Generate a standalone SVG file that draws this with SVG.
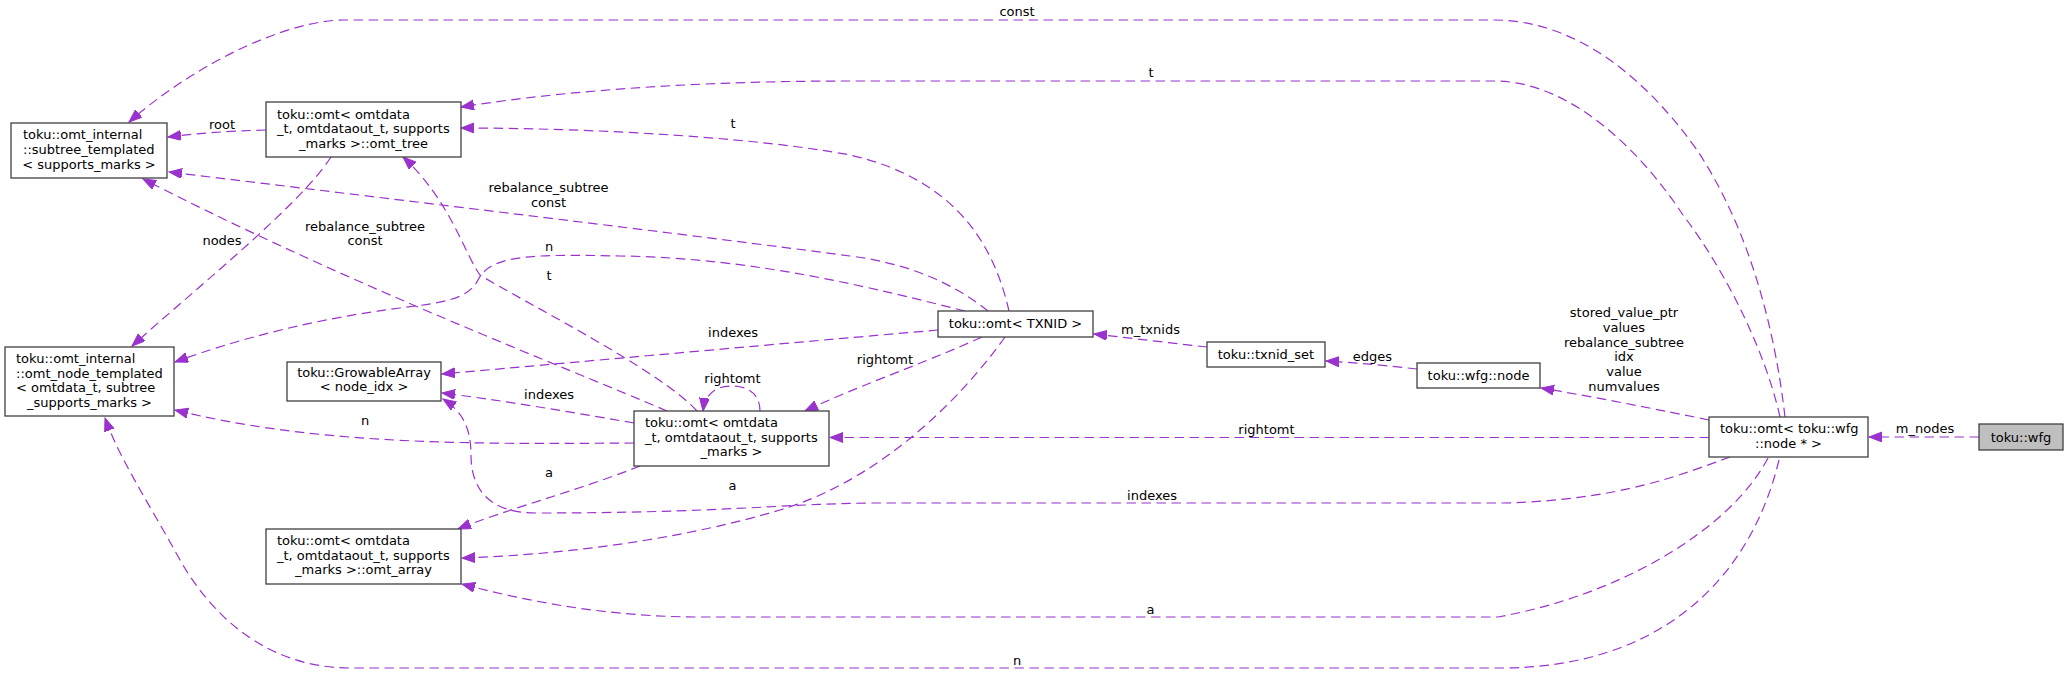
<svg xmlns="http://www.w3.org/2000/svg" width="2068" height="675" viewBox="0 0 2068 675">
<defs>
<marker id="ah" markerUnits="userSpaceOnUse" markerWidth="14" markerHeight="11" refX="13" refY="5" orient="auto"><path d="M0,0 L13,5 L0,10 z" fill="#9a32cd" stroke="#9a32cd" stroke-width="1"/></marker>
</defs>
<style>
.n rect {fill:#ffffff; stroke:#404040; stroke-width:1.3}
.n text, .lbl {font-family:"DejaVu Sans", "Liberation Sans", sans-serif; font-size:13px; fill:#000000}
.e path {fill:none; stroke:#9a32cd; stroke-width:1.2; stroke-dasharray:9.5,5.5; marker-end:url(#ah)}
.m {text-anchor:middle}
</style>
<rect width="2068" height="675" fill="#ffffff"/>
<g id="connectors" class="e">
  <path d="M1785,417 C1775,330 1750,230 1697,150 C1640,70 1570,20 1494,20 L344,20 C290,20 200,60 129,122"/>
  <path d="M1780,417 C1765,350 1725,270 1683,215 C1640,150 1570,81 1494,81 L850,81 C720,81 580,88 461,107"/>
  <path d="M266,130 C230,131 200,133 168,137"/>
  <path d="M1009,311 C995,250 960,180 850,155 C760,138 600,128 461,128"/>
  <path d="M988,311 C950,280 900,262 850,256 C700,236 400,200 169,172"/>
  <path d="M331,157 C300,205 200,285 132,346"/>
  <path d="M667,411 C560,365 350,285 143,179"/>
  <path d="M965,311 C880,290 760,258 620,256 C530,254 490,255 478,280 C468,300 440,303 400,308 C320,318 240,338 175,362"/>
  <path d="M697,411 C660,370 520,300 480,275 C465,255 450,200 403,157"/>
  <path d="M938,330 C800,342 600,360 442,374"/>
  <path d="M982,337 C920,365 860,385 805,411"/>
  <path d="M1207,347 C1170,343 1130,338 1094,334"/>
  <path d="M1417,369 C1390,366 1360,363 1326,361"/>
  <path d="M760,411 C760,394 748,386 732,386 C716,386 705,394 703,411"/>
  <path d="M634,423 C570,412 500,400 442,393"/>
  <path d="M634,443 C480,444 320,446 175,410"/>
  <path d="M1709,437.5 L830,437.5"/>
  <path d="M1979,437 L1869,437"/>
  <path d="M640,466 C580,490 510,508 458,529"/>
  <path d="M1005,337 C960,400 880,480 780,510 C680,540 560,555 462,558"/>
  <path d="M1730,457 C1680,475 1620,500 1504,503 L872,503 C780,504 720,513 536,513 C490,513 471,490 471,455 C471,425 460,410 443,399"/>
  <path d="M1768,458 C1730,530 1620,595 1498,617 L700,617 C620,617 540,605 462,584"/>
  <path d="M1779,460 C1750,580 1660,668 1500,668 L350,668 C280,668 220,630 180,560 C150,505 120,460 105,418"/>
  <path d="M1709,420 C1660,410 1600,398 1541,388"/>
  <text class="lbl m" x="1017" y="16">const</text>
  <text class="lbl m" x="1151" y="77">t</text>
  <text class="lbl m" x="222" y="128.5">root</text>
  <text class="lbl m" x="733" y="128">t</text>
  <text class="lbl m" x="548.5" y="192">rebalance_subtree</text>
  <text class="lbl m" x="548.5" y="207">const</text>
  <text class="lbl m" x="222" y="244.5">nodes</text>
  <text class="lbl m" x="365" y="230.5">rebalance_subtree</text>
  <text class="lbl m" x="365" y="245">const</text>
  <text class="lbl m" x="549" y="251">n</text>
  <text class="lbl m" x="549" y="279.5">t</text>
  <text class="lbl m" x="733" y="337">indexes</text>
  <text class="lbl m" x="885" y="364">rightomt</text>
  <text class="lbl m" x="1150.5" y="333.5">m_txnids</text>
  <text class="lbl m" x="1372.5" y="360.5">edges</text>
  <text class="lbl m" x="732.5" y="383">rightomt</text>
  <text class="lbl m" x="549" y="399">indexes</text>
  <text class="lbl m" x="365" y="424.5">n</text>
  <text class="lbl m" x="1266.5" y="433.5">rightomt</text>
  <text class="lbl m" x="1925" y="433">m_nodes</text>
  <text class="lbl m" x="549" y="476.5">a</text>
  <text class="lbl m" x="732.5" y="489.5">a</text>
  <text class="lbl m" x="1152" y="500">indexes</text>
  <text class="lbl m" x="1150.5" y="613.5">a</text>
  <text class="lbl m" x="1017" y="665">n</text>
  <text class="lbl m" x="1624" y="317"><tspan x="1624">stored_value_ptr</tspan><tspan x="1624" dy="14.8">values</tspan><tspan x="1624" dy="14.8">rebalance_subtree</tspan><tspan x="1624" dy="14.8">idx</tspan><tspan x="1624" dy="14.8">value</tspan><tspan x="1624" dy="14.8">numvalues</tspan></text>
</g>
<g id="node-subtree-templated" class="n">
  <rect x="11" y="123" width="156" height="55"/>
  <text x="23" y="139">toku::omt_internal</text>
  <text x="23" y="154">::subtree_templated</text>
  <text class="m" x="89" y="169">&lt; supports_marks &gt;</text>
</g>
<g id="node-omt-tree" class="n">
  <rect x="266" y="102" width="195" height="55"/>
  <text x="277" y="118.5">toku::omt&lt; omtdata</text>
  <text x="277" y="133">_t, omtdataout_t, supports</text>
  <text class="m" x="363.5" y="147.5">_marks &gt;::omt_tree</text>
</g>
<g id="node-omt-node-templated" class="n">
  <rect x="5" y="347" width="169" height="69"/>
  <text x="16" y="363">toku::omt_internal</text>
  <text x="16" y="377.5">::omt_node_templated</text>
  <text x="16" y="392">&lt; omtdata_t, subtree</text>
  <text class="m" x="89.5" y="406.5">_supports_marks &gt;</text>
</g>
<g id="node-growablearray" class="n">
  <rect x="287" y="362" width="154" height="39"/>
  <text class="m" x="364" y="377">toku::GrowableArray</text>
  <text class="m" x="364" y="391">&lt; node_idx &gt;</text>
</g>
<g id="node-omt-array" class="n">
  <rect x="266" y="529" width="195" height="55"/>
  <text x="277" y="545">toku::omt&lt; omtdata</text>
  <text x="277" y="559.5">_t, omtdataout_t, supports</text>
  <text class="m" x="363.5" y="574">_marks &gt;::omt_array</text>
</g>
<g id="node-omt-generic" class="n">
  <rect x="634" y="411" width="195" height="55"/>
  <text x="645" y="427">toku::omt&lt; omtdata</text>
  <text x="645" y="441.5">_t, omtdataout_t, supports</text>
  <text class="m" x="731.5" y="456">_marks &gt;</text>
</g>
<g id="node-omt-txnid" class="n">
  <rect x="938" y="311" width="155" height="26"/>
  <text class="m" x="1015.5" y="327.5">toku::omt&lt; TXNID &gt;</text>
</g>
<g id="node-txnid-set" class="n">
  <rect x="1207" y="342" width="118" height="25"/>
  <text class="m" x="1266" y="358.5">toku::txnid_set</text>
</g>
<g id="node-wfg-node" class="n">
  <rect x="1417" y="363" width="123" height="25"/>
  <text class="m" x="1478.5" y="379.5">toku::wfg::node</text>
</g>
<g id="node-omt-wfg-node" class="n">
  <rect x="1709" y="417" width="159" height="40"/>
  <text x="1720" y="433">toku::omt&lt; toku::wfg</text>
  <text class="m" x="1788.5" y="447.5">::node * &gt;</text>
</g>
<g id="node-wfg" class="n">
  <rect x="1979" y="424" width="84" height="26" style="fill:#bfbfbf"/>
  <text class="m" x="2021" y="441.5">toku::wfg</text>
</g>
</svg>
